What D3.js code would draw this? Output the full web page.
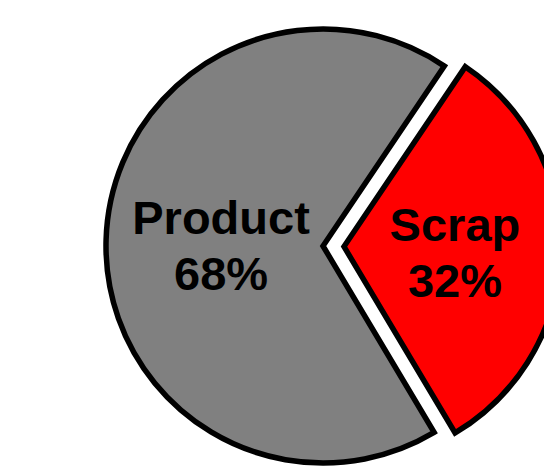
<!DOCTYPE html>
<html>
<head>
<meta charset="utf-8">
<script src="https://cdn.jsdelivr.net/npm/d3@7/dist/d3.min.js"></script>
<style>
  html, body { margin: 0; padding: 0; background: #fff; }
  svg { display: block; }
</style>
</head>
<body>
<svg id="chart" width="544" height="469"></svg>
<script>
const categories = ["Product", "Scrap"];
const values = [68, 32];
const colors = ["#808080", "#FF0000"];
const exploded = [0, 21];

const svg = d3.select("#chart");
const cx = 323, cy = 246, r = 217;
const deg = Math.PI / 180;
const start = 149.2 * deg;

const data = categories.map((c, i) => ({ name: c, value: values[i], color: colors[i], explode: exploded[i] }));

const pie = d3.pie().sort(null).value(d => d.value)
  .startAngle(start).endAngle(start + 2 * Math.PI);
const arcs = pie(data);
const arc = d3.arc().innerRadius(0).outerRadius(r);
const labelR = [102, 111];

const g = svg.append("g").attr("transform", `translate(${cx},${cy})`);

const slices = g.selectAll("g.slice").data(arcs).enter().append("g")
  .attr("class", "slice")
  .attr("transform", d => {
    const a = (d.startAngle + d.endAngle) / 2;
    const off = d.data.explode;
    return `translate(${off * Math.sin(a)},${-off * Math.cos(a)})`;
  });

slices.append("path")
  .attr("d", arc)
  .attr("fill", d => d.data.color)
  .attr("stroke", "#000")
  .attr("stroke-width", 5.5)
  .attr("stroke-linejoin", "miter")
  .attr("stroke-miterlimit", 10);

slices.each(function(d, i) {
  const a = (d.startAngle + d.endAngle) / 2;
  const lx = labelR[i] * Math.sin(a);
  const ly = -labelR[i] * Math.cos(a);
  const t = d3.select(this).append("text")
    .attr("text-anchor", "middle")
    .attr("font-family", "'Liberation Sans', Arial, sans-serif")
    .attr("font-weight", "bold")
    .attr("font-size", 47)
    .attr("fill", "#000");
  t.append("tspan").attr("x", lx).attr("y", ly - 9).text(d.data.name);
  t.append("tspan").attr("x", lx).attr("y", ly + 47).text(d.data.value + "%");
});
</script>
</body>
</html>
